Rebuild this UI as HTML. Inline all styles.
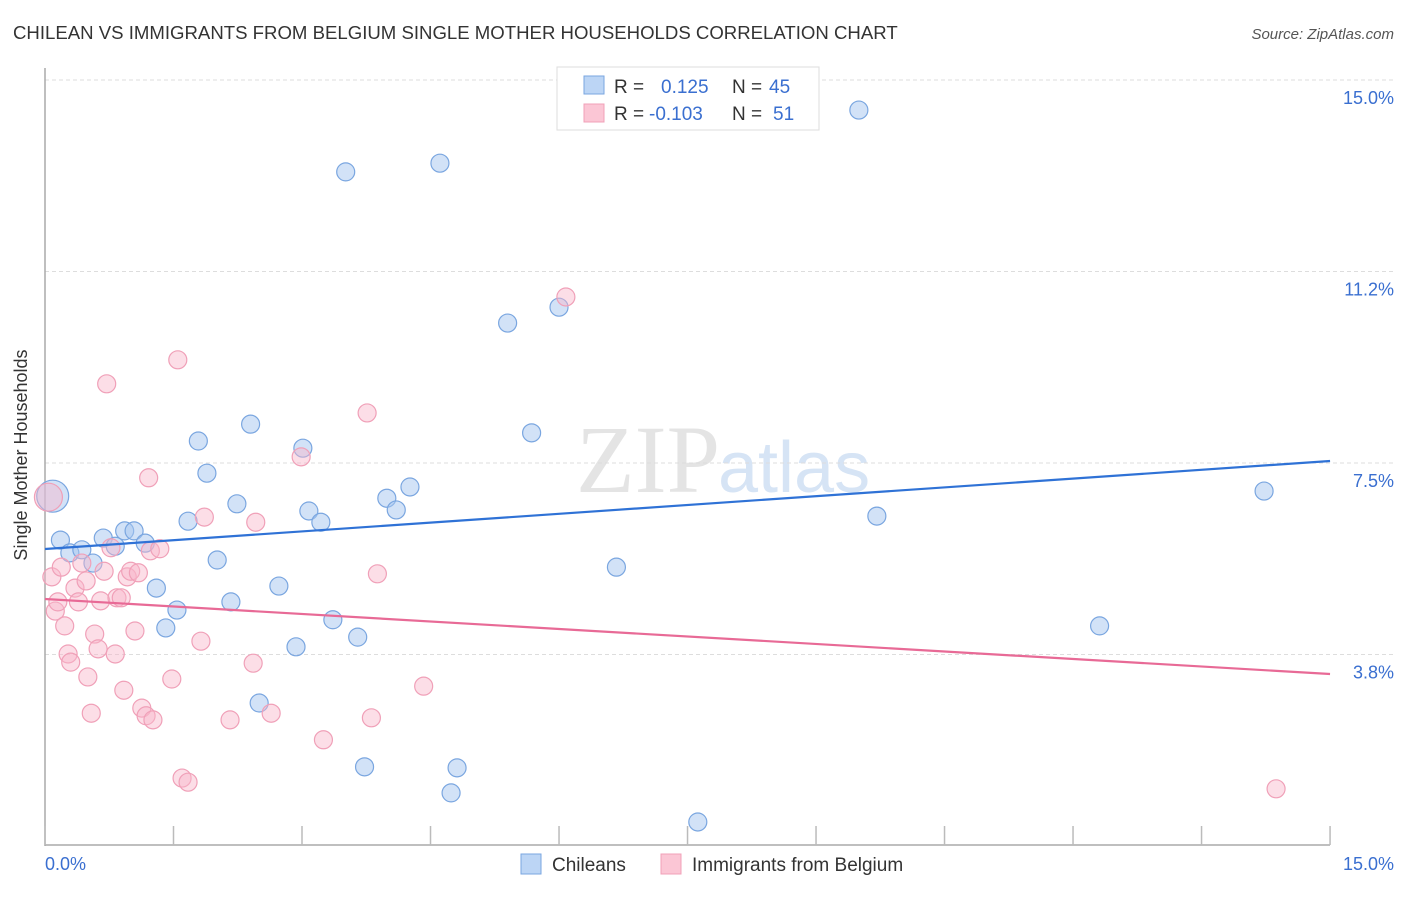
<!DOCTYPE html>
<html><head><meta charset="utf-8"><style>
body{margin:0;background:#fff;font-family:"Liberation Sans",sans-serif;}
</style></head><body>
<svg width="1406" height="892" xmlns="http://www.w3.org/2000/svg" font-family="Liberation Sans, sans-serif">
<text x="13" y="39" font-size="18.6" fill="#333">CHILEAN VS IMMIGRANTS FROM BELGIUM SINGLE MOTHER HOUSEHOLDS CORRELATION CHART</text>
<text x="1394" y="39" font-size="15" fill="#555" font-style="italic" text-anchor="end">Source: ZipAtlas.com</text>
<text x="720" y="492" font-size="96" fill="#e4e4e4" text-anchor="end" font-family="Liberation Serif, serif">ZIP</text>
<text x="718" y="492" font-size="72" fill="#d6e4f5">atlas</text>
<g id="grid"></g>
<line x1="45" y1="68" x2="45" y2="846" stroke="#aaa" stroke-width="1.5"/>
<line x1="45" y1="845" x2="1330" y2="845" stroke="#aaa" stroke-width="1.5"/>
<g id="xticks"></g>
<text x="27" y="455" font-size="18" fill="#333" text-anchor="middle" transform="rotate(-90 27 455)">Single Mother Households</text>
<text x="45" y="870" font-size="18" fill="#3a6fd0">0.0%</text>
<text x="1394" y="870" font-size="18" fill="#3a6fd0" text-anchor="end">15.0%</text>
<g id="pts"></g>
<g id="lines"></g>
<g>
<rect x="557" y="67" width="262" height="63" fill="#fff" stroke="#ddd"/>
<rect x="584" y="76" width="20" height="18" fill="#bcd5f5" stroke="#7aa6e0"/>
<rect x="584" y="104" width="20" height="18" fill="#fbc6d5" stroke="#f0a0b8"/>
<text x="614" y="93" font-size="19" fill="#333">R = </text><text x="661" y="93" font-size="19" fill="#3a6fd0">0.125</text>
<text x="732" y="93" font-size="19" fill="#333">N = </text><text x="769" y="93" font-size="19" fill="#3a6fd0">45</text>
<text x="614" y="120" font-size="19" fill="#333">R = </text><text x="649" y="120" font-size="19" fill="#3a6fd0">-0.103</text>
<text x="732" y="120" font-size="19" fill="#333">N = </text><text x="773" y="120" font-size="19" fill="#3a6fd0">51</text>
</g>
<g>
<rect x="521" y="854" width="20" height="20" fill="#bcd5f5" stroke="#7aa6e0"/>
<text x="552" y="871" font-size="19" fill="#333">Chileans</text>
<rect x="661" y="854" width="20" height="20" fill="#fbc6d5" stroke="#f0a0b8"/>
<text x="692" y="871" font-size="19" fill="#333">Immigrants from Belgium</text>
</g>
</svg>
<script>
const yTicks=[3.75,7.5,11.25,15];
const yTickLabels=["3.8%","7.5%","11.2%","15.0%"];
const xTicks=[0,1.5,3,4.5,6,7.5,9,10.5,12,13.5,15];
const chileX=[0.09,0.18,0.29,0.43,0.56,0.68,0.82,0.93,1.04,1.17,1.30,1.41,1.54,1.67,1.79,1.89,2.01,2.17,2.24,2.40,2.50,2.73,2.93,3.01,3.08,3.22,3.36,3.51,3.65,3.73,3.99,4.10,4.26,4.61,4.74,4.81,5.40,5.68,6.00,6.67,7.62,9.50,9.71,12.31,14.23];
const chileY=[6.85,5.99,5.74,5.80,5.54,6.03,5.87,6.17,6.17,5.93,5.05,4.27,4.62,6.36,7.93,7.30,5.60,4.78,6.70,8.26,2.80,5.09,3.90,7.79,6.56,6.34,4.43,13.20,4.09,1.55,6.81,6.58,7.03,13.37,1.04,1.53,10.24,8.09,10.55,5.46,0.47,14.41,6.46,4.31,6.95];
const belX=[0.04,0.08,0.12,0.15,0.19,0.23,0.27,0.30,0.35,0.39,0.43,0.48,0.50,0.54,0.58,0.62,0.65,0.69,0.72,0.77,0.82,0.84,0.89,0.92,0.96,1.00,1.05,1.09,1.13,1.18,1.21,1.23,1.26,1.34,1.48,1.55,1.60,1.67,1.82,1.86,2.16,2.43,2.46,2.64,2.99,3.25,3.76,3.81,3.88,4.42,6.08,14.37];
const belY=[6.83,5.27,4.60,4.78,5.46,4.31,3.76,3.60,5.05,4.78,5.54,5.19,3.31,2.60,4.15,3.86,4.80,5.38,9.05,5.84,3.76,4.86,4.86,3.05,5.27,5.38,4.21,5.35,2.70,2.55,7.21,5.78,2.47,5.82,3.27,9.52,1.33,1.25,4.01,6.44,2.47,3.58,6.34,2.60,7.62,2.08,8.48,2.51,5.33,3.13,10.75,1.12];
const chileTrend=[5.815,7.539];
const belTrend=[4.837,3.368];
const NS="http://www.w3.org/2000/svg";
const sx=v=>45+v*85.67, sy=v=>846-v*51.07;
function mk(t,a,p){const e=document.createElementNS(NS,t);for(const k in a)e.setAttribute(k,a[k]);document.getElementById(p).appendChild(e);return e;}
yTicks.forEach((v,i)=>{
 const l=mk('line',{x1:45,x2:1394,y1:sy(v),y2:sy(v),stroke:'#ddd','stroke-dasharray':'4,3'},'grid');
 
 
 const t=mk('text',{x:1394,y:sy(v)+24,'font-size':18,fill:'#3a6fd0','text-anchor':'end'},'grid');
 t.textContent=yTickLabels[i];
 
 
});
xTicks.forEach(v=>{
 const l=mk('line',{x1:sx(v),x2:sx(v),y1:826,y2:845,stroke:'#bbb','stroke-width':1.5},'xticks');
 
 
});
chileX.forEach((x,i)=>{
 const c=mk('circle',{cx:sx(x),cy:sy(chileY[i]),r:i==0?16:9,fill:'rgba(165,198,240,0.5)',stroke:'#7aa6e0','stroke-width':1.2},'pts');
 
 
});
belX.forEach((x,i)=>{
 const c=mk('circle',{cx:sx(x),cy:sy(belY[i]),r:i==0?14:9,fill:'rgba(248,182,202,0.45)',stroke:'#f0a0b8','stroke-width':1.2},'pts');
 
 
});
const l1=mk('line',{x1:sx(0),x2:sx(15),y1:sy(chileTrend[0]),y2:sy(chileTrend[1]),stroke:'#2f72d6','stroke-width':2.2},'lines');


const l2=mk('line',{x1:sx(0),x2:sx(15),y1:sy(belTrend[0]),y2:sy(belTrend[1]),stroke:'#e86a96','stroke-width':2.2},'lines');


</script>
</body></html>
